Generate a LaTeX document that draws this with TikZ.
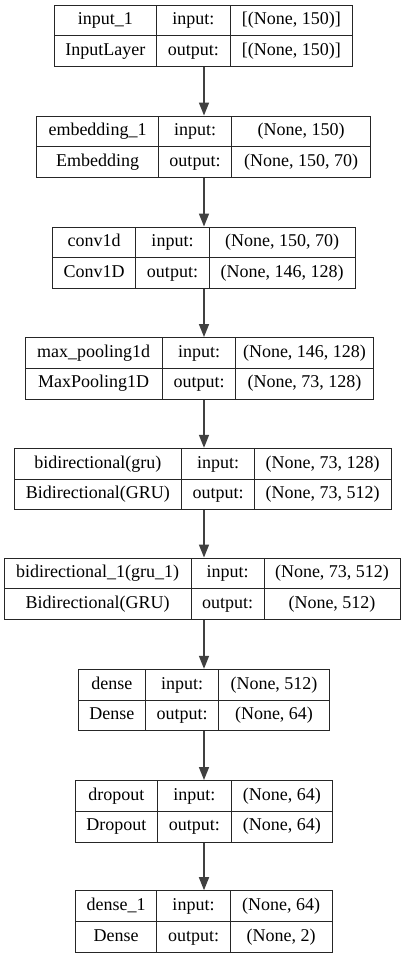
\documentclass[tikz,border=0pt]{standalone}
\usepackage{fontspec}
\setmainfont{Liberation Serif}
\usetikzlibrary{arrows.meta,fit}
\begin{document}
\begin{tikzpicture}[x=1pt,y=-1pt,
  boxline/.style={draw=black!85,line width=1pt},
  txt/.style={inner sep=0pt,anchor=center,text height=12.5pt,text depth=4pt,font=\fontsize{18}{20}\selectfont},
  arr/.style={draw=black!75,line width=1.6pt,-{Triangle[length=13pt,width=10pt]}}]
\fill[white] (0,0) rectangle (408,959);
\useasboundingbox (0,0) rectangle (408,959);
\coordinate (ax) at (204,0);
\foreach \n/\l/\da/\db/\r/\t/\ta/\tb/\ia/\ib in {
  b1/54/156.7/230/352.7/5/{input\_1}/{InputLayer}/{[(None, 150)]}/{[(None, 150)]},
  b2/36.7/158.3/231.7/370.7/116/{embedding\_1}/{Embedding}/{(None, 150)}/{(None, 150, 70)},
  b3/52.7/135.7/209.3/355/227/{conv1d}/{Conv1D}/{(None, 150, 70)}/{(None, 146, 128)},
  b4/25/162.3/235.7/373.3/337.5/{max\_pooling1d}/{MaxPooling1D}/{(None, 146, 128)}/{(None, 73, 128)},
  b5/14/181.7/254.3/391/448.3/{bidirectional(gru)}/{Bidirectional(GRU)}/{(None, 73, 128)}/{(None, 73, 512)},
  b6/4/191/264/400/558/{bidirectional\_1(gru\_1)}/{Bidirectional(GRU)}/{(None, 73, 512)}/{(None, 512)},
  b7/78.3/145.3/218.7/329.3/669.3/{dense}/{Dense}/{(None, 512)}/{(None, 64)},
  b8/75/157.7/231/332.7/780.5/{dropout}/{Dropout}/{(None, 64)}/{(None, 64)},
  b9/75.7/156.7/230.3/332/890.7/{dense\_1}/{Dense}/{(None, 64)}/{(None, 2)}}{
  \pgfmathsetmacro\bt{\t+61.5}
  \pgfmathsetmacro\m{\t+30.9}
  \pgfmathsetmacro\ya{(\t+\m)/2}
  \pgfmathsetmacro\yb{(\m+\bt)/2}
  \node[fit={(\l,\t) (\r,\bt)},inner sep=0pt,boxline] (\n) {};
  \draw[boxline] (\l,\m) -- (\r,\m);
  \draw[boxline] (\da,\t) -- (\da,\bt);
  \draw[boxline] (\db,\t) -- (\db,\bt);
  \node[txt] (\n-name) at ({(\l+\da)/2},\ya) {\ta};
  \node[txt] (\n-cls) at ({(\l+\da)/2},\yb) {\tb};
  \node[txt] (\n-in) at ({(\da+\db)/2},\ya) {input:};
  \node[txt] (\n-out) at ({(\da+\db)/2},\yb) {output:};
  \node[txt] (\n-ish) at ({(\db+\r)/2},\ya) {\ia};
  \node[txt] (\n-osh) at ({(\db+\r)/2},\yb) {\ib};
}
\foreach \a/\b in {b1/b2,b2/b3,b3/b4,b4/b5,b5/b6,b6/b7,b7/b8,b8/b9}{
  \draw[arr] (\a.south -| ax) -- (\b.north -| ax);
}
\end{tikzpicture}
\end{document}
